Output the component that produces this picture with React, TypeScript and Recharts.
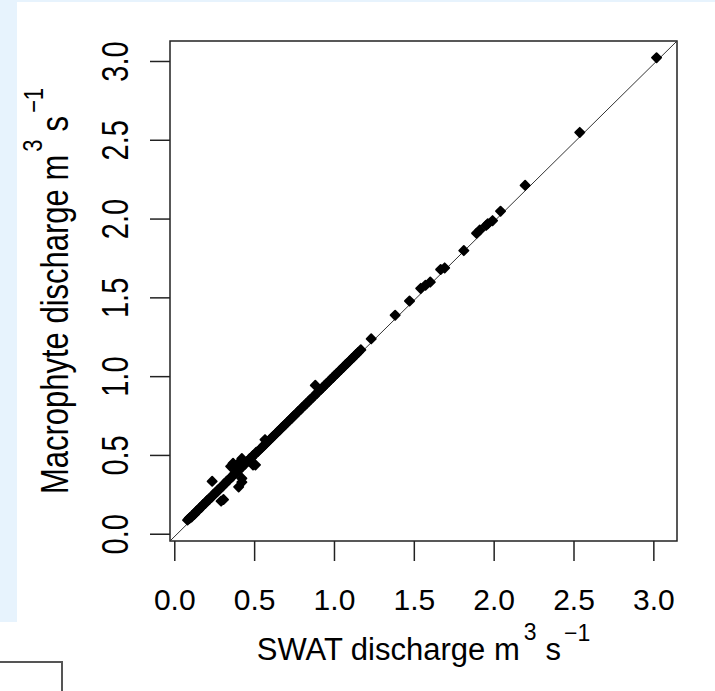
import { ScatterChart, Scatter, XAxis, YAxis, ReferenceLine, ReferenceArea, Label } from 'recharts';

// SWAT vs macrophyte discharge (m3/s)
const upperSwat = [3.017, 2.536, 2.194, 2.04, 1.99, 1.96, 1.95, 1.91, 1.89, 1.81, 1.69, 1.665, 1.6, 1.57, 1.54, 1.47, 1.38, 1.23];
const upperMacro = [3.024, 2.55, 2.214, 2.05, 1.99, 1.97, 1.96, 1.93, 1.91, 1.8, 1.69, 1.68, 1.6, 1.58, 1.56, 1.48, 1.39, 1.24];

const bandSwat = [
  0.08, 0.09, 0.095, 0.105, 0.11, 0.12, 0.125, 0.135, 0.14, 0.15, 0.16, 0.165, 0.175, 0.18, 0.19, 0.2,
  0.205, 0.215, 0.22, 0.23, 0.24, 0.25, 0.255, 0.265, 0.27, 0.28, 0.29, 0.3, 0.31, 0.315, 0.325, 0.33,
  0.34, 0.35, 0.36, 0.37, 0.375, 0.385, 0.39, 0.4, 0.41, 0.42, 0.43, 0.44, 0.45, 0.46, 0.47, 0.48, 0.49,
  0.5, 0.51, 0.52, 0.535, 0.545, 0.555, 0.565, 0.575, 0.585, 0.6, 0.61, 0.62, 0.635, 0.645, 0.655, 0.67,
  0.68, 0.69, 0.705, 0.715, 0.73, 0.74, 0.75, 0.765, 0.775, 0.79, 0.8, 0.815, 0.825, 0.84, 0.85, 0.865,
  0.875, 0.89, 0.9, 0.915, 0.925, 0.94, 0.95, 0.965, 0.975, 0.99, 1.0, 1.015, 1.03, 1.04, 1.055, 1.07,
  1.08, 1.095, 1.11, 1.12, 1.135, 1.15, 1.165,
];
const bandMacro = [
  0.09, 0.1, 0.105, 0.11, 0.12, 0.125, 0.13, 0.145, 0.15, 0.155, 0.17, 0.17, 0.185, 0.19, 0.195, 0.21,
  0.215, 0.22, 0.23, 0.235, 0.25, 0.255, 0.265, 0.27, 0.28, 0.285, 0.3, 0.305, 0.32, 0.32, 0.335, 0.34,
  0.345, 0.36, 0.365, 0.38, 0.385, 0.39, 0.4, 0.405, 0.42, 0.425, 0.44, 0.445, 0.46, 0.465, 0.48, 0.485, 0.5,
  0.505, 0.52, 0.525, 0.54, 0.55, 0.56, 0.57, 0.58, 0.59, 0.605, 0.615, 0.625, 0.64, 0.65, 0.66, 0.675,
  0.685, 0.695, 0.71, 0.72, 0.735, 0.745, 0.755, 0.77, 0.78, 0.795, 0.805, 0.82, 0.83, 0.845, 0.855, 0.87,
  0.88, 0.895, 0.905, 0.92, 0.93, 0.945, 0.955, 0.97, 0.98, 0.995, 1.005, 1.02, 1.035, 1.045, 1.06, 1.075,
  1.085, 1.1, 1.115, 1.125, 1.14, 1.155, 1.17,
];

const outlierSwat = [0.234, 0.29, 0.305, 0.35, 0.365, 0.4, 0.41, 0.42, 0.4, 0.42, 0.42, 0.49, 0.505, 0.565, 0.88];
const outlierMacro = [0.336, 0.21, 0.22, 0.43, 0.45, 0.45, 0.46, 0.48, 0.3, 0.33, 0.355, 0.44, 0.44, 0.6, 0.945];

const ticks = [0, 0.5, 1, 1.5, 2, 2.5, 3];
const xDomain = [-0.03, 3.145];
const yDomain = [-0.043, 3.13];

const FONT = '"Liberation Sans", Arial, sans-serif';

const toPoints = (xs: number[], ys: number[]) => xs.map((x, i) => ({ swat: x, macro: ys[i] }));
const points = [
  ...toPoints(bandSwat, bandMacro),
  ...toPoints(outlierSwat, outlierMacro),
  ...toPoints(upperSwat, upperMacro),
];

// filled diamond, corners softened like the R pch 18 marker
const Diamond = (props: any) => {
  const { cx, cy } = props;
  const r = 4.6;
  return (
    <path
      d={`M${cx},${cy - r}L${cx + r},${cy}L${cx},${cy + r}L${cx - r},${cy}Z`}
      fill="#000"
      stroke="#000"
      strokeWidth={1.8}
      strokeLinejoin="round"
    />
  );
};

const YTick = (props: any) => {
  const { x, y, payload } = props;
  return (
    <g transform={`translate(${x},${y}) rotate(-90) scale(1,1.25)`}>
      <text x={0} y={0} textAnchor="middle" fontSize={29} fill="#000" fontFamily={FONT}>
        {Number(payload.value).toFixed(1)}
      </text>
    </g>
  );
};

const XTitle = (props: any) => {
  const vb = props.viewBox;
  const cx = vb.x + vb.width / 2;
  return (
    <text x={cx} y={vb.y + 119} textAnchor="middle" fontSize={31} fill="#000" fontFamily={FONT}>
      SWAT discharge m
      <tspan dx={4} dy={-20} fontSize={23}>3</tspan>
      <tspan dx={9} dy={20}>s</tspan>
      <tspan dx={3} dy={-19} fontSize={23}>−1</tspan>
    </text>
  );
};

const YTitle = (props: any) => {
  const vb = props.viewBox;
  const cy = vb.y + vb.height / 2;
  return (
    <g transform={`translate(${vb.x + 48},${cy}) rotate(-90) scale(1,1.25)`}>
      <text x={0} y={0} textAnchor="middle" fontSize={31} fill="#000" fontFamily={FONT}>
        Macrophyte discharge m
        <tspan dx={3} dy={-21} fontSize={22}>3</tspan>
        <tspan dx={8} dy={21}>s</tspan>
        <tspan dx={3} dy={-20} fontSize={22}>−1</tspan>
      </text>
    </g>
  );
};

export default function App() {
  return (
    <div style={{ position: 'fixed', left: 0, top: 0, width: 715, height: 691, background: '#fff', overflow: 'hidden' }}>
      <div style={{ position: 'absolute', left: 0, top: 0, width: 715, height: 622, background: '#e7f3fd' }} />
      <div style={{ position: 'absolute', left: 17, top: 2, width: 698, height: 689, background: '#fff' }} />
      <div style={{ position: 'absolute', left: -2, top: 661, width: 61, height: 40, border: '2px solid #555' }} />
      <div style={{ position: 'absolute', left: 0, top: 0 }}>
        <ScatterChart width={715} height={691} margin={{ top: 41, right: 38, left: 20, bottom: 30 }}>
          <XAxis
            type="number"
            dataKey="swat"
            domain={xDomain}
            ticks={ticks}
            allowDataOverflow
            tickFormatter={(v: number) => v.toFixed(1)}
            tickSize={20}
            tickMargin={28}
            axisLine={false}
            tickLine={{ stroke: '#222', strokeWidth: 1.5 }}
            tick={{ fontSize: 30, fill: '#000', fontFamily: FONT }}
            height={120}
          >
            <Label content={XTitle} />
          </XAxis>
          <YAxis
            type="number"
            dataKey="macro"
            domain={yDomain}
            ticks={ticks}
            allowDataOverflow
            tickSize={20}
            tickMargin={22}
            axisLine={false}
            tickLine={{ stroke: '#222', strokeWidth: 1.5 }}
            tick={<YTick />}
            width={150}
          >
            <Label content={YTitle} />
          </YAxis>
          <ReferenceArea
            x1={xDomain[0]}
            x2={xDomain[1]}
            y1={yDomain[0]}
            y2={yDomain[1]}
            fill="none"
            fillOpacity={0}
            stroke="#222"
            strokeWidth={1.5}
            ifOverflow="visible"
          />
          <ReferenceLine
            segment={[{ x: xDomain[0], y: yDomain[0] }, { x: xDomain[1], y: yDomain[1] }]}
            stroke="#333"
            strokeWidth={1}
            ifOverflow="visible"
          />
          <Scatter data={points} shape={Diamond} isAnimationActive={false} />
        </ScatterChart>
      </div>
    </div>
  );
}
